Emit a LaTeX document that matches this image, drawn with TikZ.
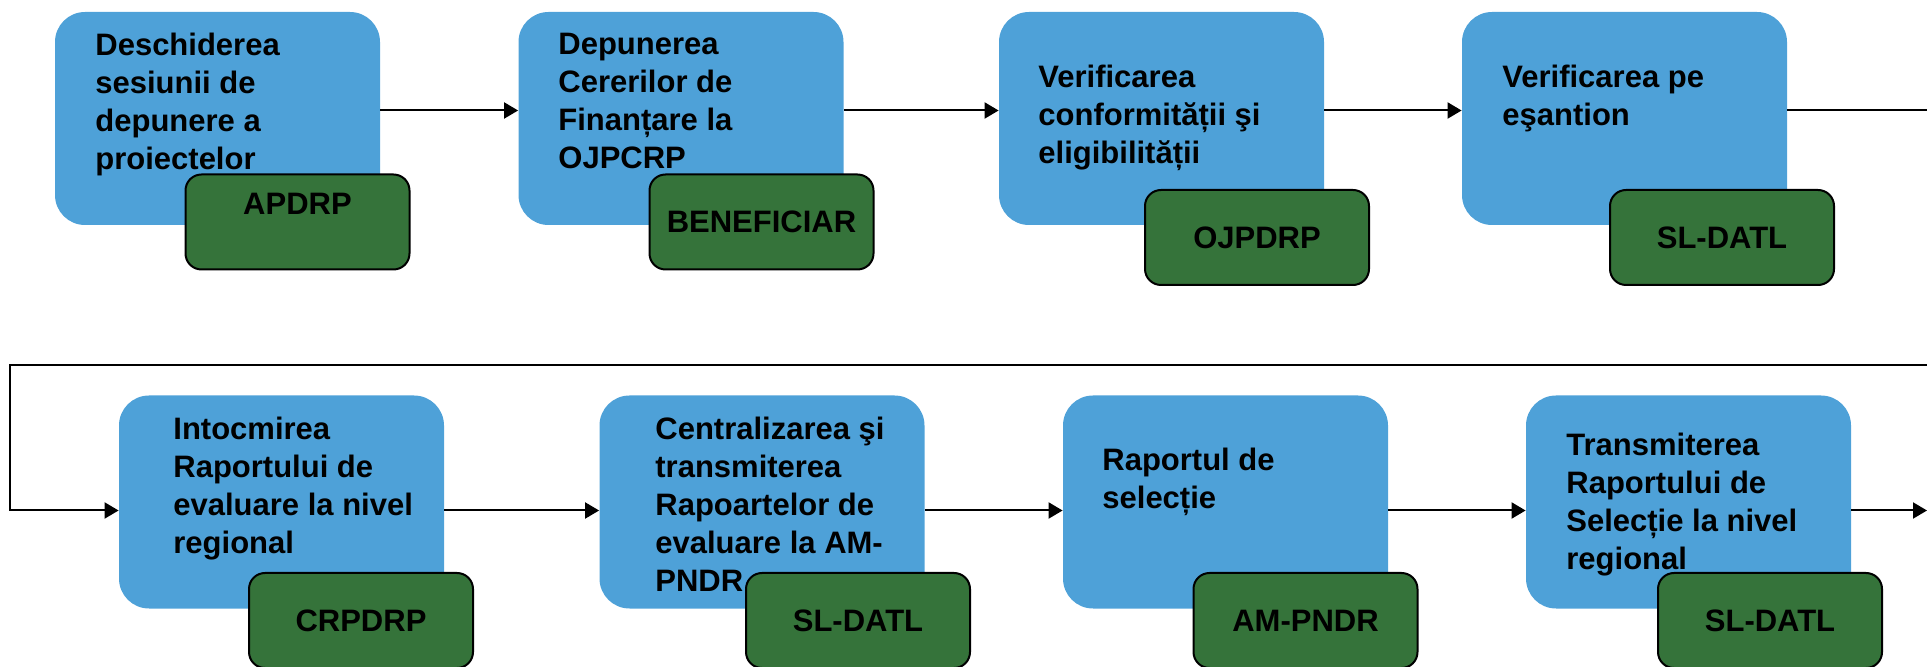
\documentclass[tikz,border=0pt]{standalone}
\usepackage{fontspec}
\setmainfont{Liberation Sans}
\usetikzlibrary{arrows.meta}
\definecolor{stageblue}{RGB}{78,161,216}
\definecolor{actorgreen}{RGB}{53,115,58}

\begin{document}
\begin{tikzpicture}[x=0.5pt, y=-0.5pt,
  stage/.style={fill=stageblue, rounded corners=15pt, minimum width=162.5pt, minimum height=106.5pt, inner sep=0pt},
  stagetext/.style={anchor=north west, align=left, inner sep=0pt, font=\fontsize{15.5}{19}\selectfont\bfseries},
  actor/.style={draw=black, line width=1pt, fill=actorgreen, rounded corners=8pt, minimum width=112pt, minimum height=47.5pt, inner sep=0pt, font=\fontsize{15.5}{19}\selectfont\bfseries},
  flow/.style={line width=1pt, -{Triangle[length=7pt, width=8pt]}}]
  \useasboundingbox (0,0) rectangle (1927,667);
  \clip (0,0) rectangle (1927,667);

  % first row
  \node[stage] (s1) at (217.5,118.5) {};
  \node[stagetext] (t1) at (95,33) {Deschiderea\\sesiunii de\\depunere a\\proiectelor};
  \node[actor, text depth=18pt] (a1) at (297.5,222) {APDRP};

  \node[stage] (s2) at (681,118.5) {};
  \node[stagetext] (t2) at (558,33) {Depunerea\\Cererilor de\\Finanțare la\\OJPCRP};
  \node[actor] (a2) at (761.5,222) {BENEFICIAR};

  \node[stage] (s3) at (1161.5,118.5) {};
  \node[stagetext] (t3) at (1038,65) {Verificarea\\conformității şi\\eligibilității};
  \node[actor] (a3) at (1257,237.5) {OJPDRP};

  \node[stage] (s4) at (1624.5,118.5) {};
  \node[stagetext] (t4) at (1502,65) {Verificarea pe\\eşantion};
  \node[actor] (a4) at (1722,237.5) {SL-DATL};

  % second row
  \node[stage] (s5) at (281.5,502) {};
  \node[stagetext] (t5) at (173,417) {Intocmirea\\Raportului de\\evaluare la nivel\\regional};
  \node[actor] (a5) at (361,620.5) {CRPDRP};

  \node[stage] (s6) at (762,502) {};
  \node[stagetext] (t6) at (655,417) {Centralizarea şi\\transmiterea\\Rapoartelor de\\evaluare la AM-\\PNDR};
  \node[actor] (a6) at (858,620.5) {SL-DATL};

  \node[stage] (s7) at (1225.5,502) {};
  \node[stagetext] (t7) at (1102,448) {Raportul de\\selecție};
  \node[actor] (a7) at (1305.5,620.5) {AM-PNDR};

  \node[stage] (s8) at (1688.5,502) {};
  \node[stagetext] (t8) at (1566,433) {Transmiterea\\Raportului de\\Selecție la nivel\\regional};
  \node[actor] (a8) at (1770,620.5) {SL-DATL};

  % connectors
  \draw[flow] ([yshift=4pt]s1.east) -- ([yshift=4pt]s2.west);
  \draw[flow] ([yshift=4pt]s2.east) -- ([yshift=4pt]s3.west);
  \draw[flow] ([yshift=4pt]s3.east) -- ([yshift=4pt]s4.west);
  \coordinate (wrapR) at (1945,365);
  \coordinate (wrapL) at (10,365);
  \draw[flow] ([yshift=4pt]s4.east) -| (wrapR) -- (wrapL) |- ([yshift=-4.25pt]s5.west);
  \draw[flow] ([yshift=-4.25pt]s5.east) -- ([yshift=-4.25pt]s6.west);
  \draw[flow] ([yshift=-4.25pt]s6.east) -- ([yshift=-4.25pt]s7.west);
  \draw[flow] ([yshift=-4.25pt]s7.east) -- ([yshift=-4.25pt]s8.west);
  \coordinate (exitR) at (1927,510.5);
  \draw[flow] ([yshift=-4.25pt]s8.east) -- (exitR);
\end{tikzpicture}
\end{document}
